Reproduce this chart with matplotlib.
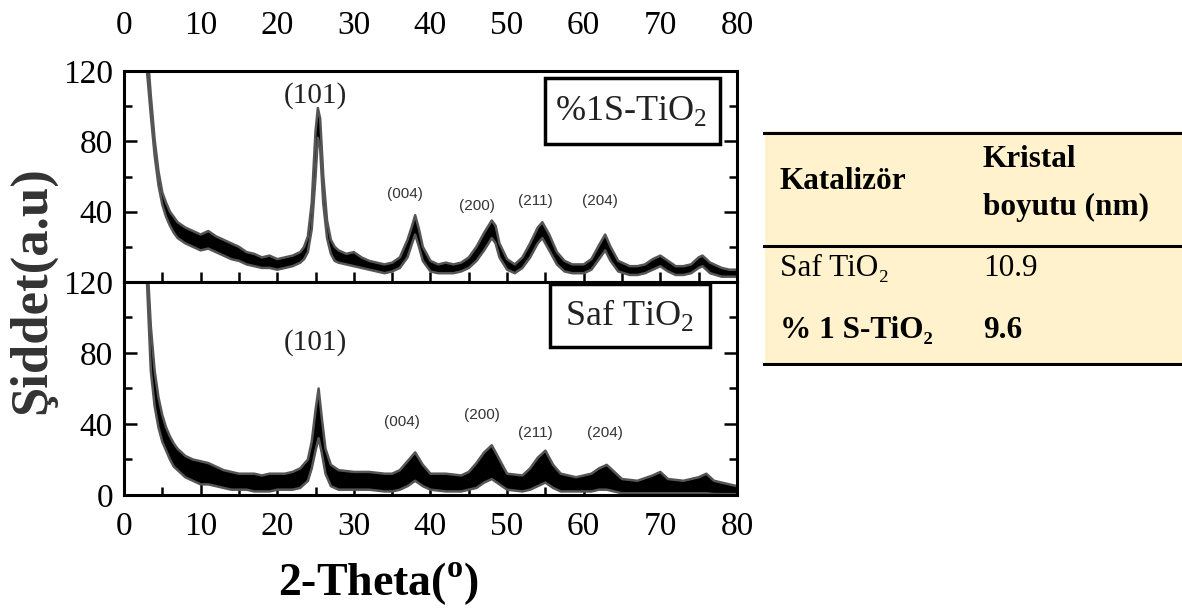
import matplotlib
matplotlib.use("Agg")
import matplotlib.pyplot as plt
from matplotlib.patches import Rectangle
from matplotlib.ticker import MultipleLocator

plt.rcParams['font.family'] = ['Liberation Serif', 'DejaVu Serif']
plt.rcParams['mathtext.fontset'] = 'custom'
plt.rcParams['mathtext.rm'] = 'Liberation Serif'
plt.rcParams['mathtext.bf'] = 'Liberation Serif:bold'

# XRD band: 2-theta, lower and upper edge of the noisy trace
# %1 S-TiO2 (top panel)
theta_s = [3.0, 3.5, 4.0, 4.5, 5.0, 5.5, 6.0, 6.5, 7.0, 8.0, 9.0, 10.0, 11.0, 12.0,
           13.0, 14.0, 15.0, 16.0, 17.0, 18.0, 19.0, 20.0, 21.0, 22.0, 23.0, 23.5,
           24.0, 24.5, 25.0, 25.3, 25.6, 26.0, 26.5, 27.0, 27.5, 28.0, 29.0, 30.0,
           31.0, 32.0, 33.0, 34.0, 35.0, 36.0, 37.0, 37.6, 38.0, 38.5, 39.0, 40.0,
           41.0, 42.0, 43.0, 44.0, 45.0, 46.0, 47.0, 48.0, 48.5, 49.0, 50.0, 51.0,
           52.0, 53.0, 54.0, 54.6, 55.5, 56.5, 57.5, 58.5, 60.0, 61.0, 62.0, 62.8,
           63.5, 64.5, 66.0, 67.0, 68.0, 69.0, 70.0, 71.0, 72.0, 73.0, 74.0, 75.0,
           75.5, 76.5, 78.0, 79.0, 80.0]
low_s = [120, 95, 72, 55, 44, 37, 32, 28, 25, 22, 20, 18, 19, 17,
         15, 13, 12, 10, 9, 8, 8, 7, 8, 9, 11, 13,
         17, 30, 60, 82, 76, 45, 25, 16, 12, 11, 10, 9,
         8, 7, 6, 5, 6, 8, 14, 22, 27, 20, 12, 6,
         5, 5, 5, 6, 8, 12, 18, 25, 22, 14, 7, 5,
         8, 14, 22, 25, 18, 10, 6, 5, 5, 7, 13, 18,
         12, 6, 4, 4, 5, 7, 9, 6, 4, 4, 5, 8,
         9, 5, 3, 3, 3]
high_s = [135, 106, 81, 63, 51, 45, 40, 37, 34, 31, 29, 27, 29, 26,
          24, 22, 20, 17, 16, 14, 15, 13, 14, 15, 17, 20,
          26, 45, 86, 99, 93, 61, 35, 24, 20, 18, 16, 17,
          14, 12, 11, 10, 11, 14, 24, 32, 38, 30, 20, 12,
          10, 11, 10, 11, 14, 20, 28, 35, 32, 22, 13, 10,
          14, 22, 31, 34, 27, 17, 12, 10, 10, 13, 21, 27,
          20, 12, 9, 9, 10, 13, 15, 12, 9, 9, 10, 14,
          15, 11, 8, 7, 7]

# Saf TiO2 (bottom panel)
theta_p = [3.0, 3.5, 4.0, 4.5, 5.0, 5.5, 6.0, 6.5, 7.0, 8.0, 9.0, 10.0, 11.0, 12.0,
           13.0, 14.0, 15.0, 16.0, 17.0, 18.0, 19.0, 20.0, 21.0, 22.0, 23.0, 24.0,
           24.5, 25.0, 25.4, 25.8, 26.3, 27.0, 28.0, 30.0, 32.0, 34.0, 35.0, 36.0,
           37.0, 38.0, 39.0, 40.0, 42.0, 44.0, 45.0, 46.0, 47.0, 48.0, 49.0, 50.0,
           52.0, 53.0, 54.0, 55.0, 56.0, 57.0, 59.0, 61.0, 62.0, 63.0, 64.0, 65.0,
           67.0, 69.0, 70.0, 71.0, 73.0, 75.0, 76.0, 77.0, 79.0, 80.0]
low_p = [120, 70, 50, 38, 30, 25, 20, 16, 14, 10, 8, 6, 6, 5,
         4, 3, 3, 3, 2, 2, 2, 3, 3, 3, 4, 8,
         15, 25, 32, 24, 12, 5, 3, 3, 3, 2, 2, 3,
         5, 8, 5, 3, 2, 2, 3, 4, 7, 9, 6, 3,
         2, 3, 5, 7, 4, 2, 2, 2, 3, 3, 2, 1,
         1, 1, 1, 1, 1, 1, 1, 0.5, 0.5, 0.5]
high_p = [135, 95, 70, 55, 45, 38, 33, 29, 26, 22, 20, 19, 18, 16,
          14, 13, 12, 12, 12, 11, 12, 12, 12, 13, 15, 20,
          30, 48, 60, 44, 26, 17, 14, 13, 13, 12, 12, 14,
          19, 24, 17, 12, 12, 11, 13, 18, 24, 28, 20, 12,
          11, 15, 21, 25, 17, 12, 10, 12, 15, 17, 13, 9,
          8, 11, 13, 9, 8, 10, 12, 8, 6, 5]

# peak labels (hkl) and where they sit
hkl = ['(101)', '(004)', '(200)', '(211)', '(204)']
hkl_x_s = [25.0, 36.7, 46.1, 53.7, 62.1]
hkl_y_s = [106, 50, 43, 46, 46]
hkl_x_p = [25.0, 36.3, 46.7, 53.7, 62.8]
hkl_y_p = [86, 41, 45, 35, 35]

y_ticks = [0, 40, 80, 120]
x_ticks = [0, 10, 20, 30, 40, 50, 60, 70, 80]

# table on the right
table_header = ['Katalizör', 'Kristal\nboyutu (nm)']
table_names = ['Saf TiO₂', '% 1 S-TiO₂']
table_sizes = ['10.9', '9.6']

fig = plt.figure(figsize=(11.82, 6.13), dpi=100)
ax1 = fig.add_axes([0.1049, 0.540, 0.5186, 0.344])
ax2 = fig.add_axes([0.1049, 0.1925, 0.5186, 0.3475])


def draw_band(ax, x, lo, hi):
    ax.fill_between(x, lo, hi, color='black', lw=0)
    ax.plot(x, hi, color='#555555', lw=1.8)
    ax.plot(x, lo, color='#555555', lw=1.8)


draw_band(ax1, theta_s, low_s, high_s)
draw_band(ax2, theta_p, low_p, high_p)

for ax in (ax1, ax2):
    ax.set_xlim(0, 80)
    ax.set_ylim(0, 120)
    for sp in ax.spines.values():
        sp.set_linewidth(2.2)
    ax.xaxis.set_major_locator(MultipleLocator(10))
    ax.xaxis.set_minor_locator(MultipleLocator(5))
    ax.yaxis.set_minor_locator(MultipleLocator(20))
    ax.tick_params(axis='y', which='both', direction='in', left=True, right=True,
                   width=1.8, labelsize=24, pad=8)
    ax.tick_params(axis='y', which='major', length=9.5)
    ax.tick_params(axis='y', which='minor', length=6)
    ax.tick_params(axis='x', which='both', direction='in', top=False, width=1.8)

ax1.set_yticks(y_ticks[1:])
ax2.set_yticks(y_ticks)
ax1.set_xticks(x_ticks)
ax2.set_xticks(x_ticks)
ax1.tick_params(axis='x', which='both', length=7, labelbottom=False,
                labeltop=True, labelsize=24, pad=22)
ax2.tick_params(axis='x', which='major', length=9.5, labelsize=24, pad=12)
ax2.tick_params(axis='x', which='minor', length=6)

for ax, xs, ys in ((ax1, hkl_x_s, hkl_y_s), (ax2, hkl_x_p, hkl_y_p)):
    for lab, xv, yv in zip(hkl, xs, ys):
        if lab == '(101)':
            ax.text(xv, yv, lab, fontsize=21, ha='center', va='center', color='#222222')
        else:
            ax.text(xv, yv, lab, fontsize=11, ha='center', va='center', color='#333333',
                    family=['Liberation Sans', 'DejaVu Sans'])

# sample boxes
ax1.add_patch(Rectangle((55.0, 78.3), 22.8, 37.7, fill=False, lw=2.5, zorder=5))
ax1.text(66.2, 97.5, r'%1S-TiO$_{2}$', fontsize=26, ha='center', va='center', color='#222222')
ax2.add_patch(Rectangle((55.6, 83.6), 20.9, 35.0, fill=False, lw=2.5, zorder=5))
ax2.text(66.0, 101.5, r'Saf TiO$_{2}$', fontsize=26, ha='center', va='center', color='#222222')

fig.text(0.027, 0.527, 'Şiddet(a.u)', rotation=90, fontsize=38, fontweight='bold',
         ha='center', va='center', color='#333333')
fig.text(0.32, 0.048, r'2-Theta($^{\mathbf{o}}$)', fontsize=33, fontweight='bold',
         ha='center', va='center')

# table
axt = fig.add_axes([763 / 1182, 1 - 366 / 613, 419 / 1182, 235 / 613])
axt.set_xlim(0, 1)
axt.set_ylim(0, 1)
axt.axis('off')
axt.add_patch(Rectangle((0.005, 0), 0.995, 1, color='#FFF2CC', lw=0))
for yl in (0.99, 0.51, 0.01):
    axt.plot([0, 1], [yl, yl], color='black', lw=2.2)
col_x = [0.04, 0.525]
axt.text(col_x[0], 0.783, table_header[0], fontsize=22.5, fontweight='bold', va='center')
axt.text(col_x[1], 0.777, table_header[1], fontsize=22.5, fontweight='bold', va='center',
         linespacing=1.85)
row_y = [0.417, 0.153]
for i, (nm, sz) in enumerate(zip(table_names, table_sizes)):
    w = 'normal' if i == 0 else 'bold'
    axt.text(col_x[0], row_y[i], nm, fontsize=22.5, fontweight=w, va='center')
    axt.text(col_x[1], row_y[i], sz, fontsize=22.5, fontweight=w, va='center')

fig.savefig('out.png', dpi=100)
